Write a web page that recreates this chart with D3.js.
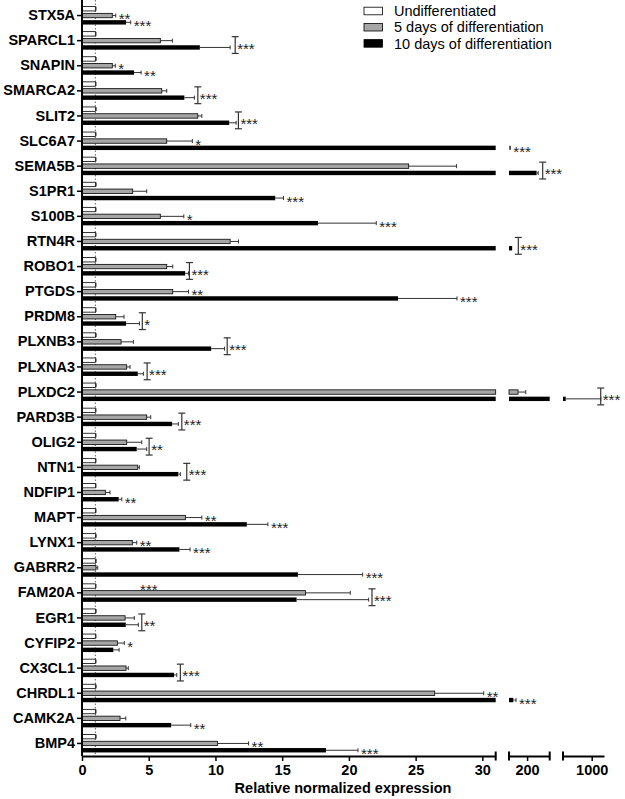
<!DOCTYPE html>
<html>
<head>
<meta charset="utf-8">
<script src="https://cdn.jsdelivr.net/npm/d3@7"></script>
<style>
  body { margin: 0; background: #fff; }
  text { font-family: Arial, "Liberation Sans", sans-serif; }
</style>
</head>
<body>
<div id="container"></div>
<script>
// DATA
const genes = ["STX5A","SPARCL1","SNAPIN","SMARCA2","SLIT2","SLC6A7","SEMA5B","S1PR1","S100B","RTN4R",
  "ROBO1","PTGDS","PRDM8","PLXNB3","PLXNA3","PLXDC2","PARD3B","OLIG2","NTN1","NDFIP1",
  "MAPT","LYNX1","GABRR2","FAM20A","EGR1","CYFIP2","CX3CL1","CHRDL1","CAMK2A","BMP4"];

const undiff   = [1,1,1,1,1,1,1,1,1,1, 1,1,1,1,1,1,1,1,1,1, 1,1,1,1,1,1,1,1,1,1];
const undiffSd = [0.05,0.05,0.06,0.05,0.06,0.05,0.05,0.06,0.05,0.05, 0.05,0.05,0.05,0.06,0.05,0.06,0.05,0.05,0.05,0.05,
  0.05,0.06,0.06,0.05,0.06,0.05,0.05,0.06,0.05,0.06];

const day5   = [2.27,5.87,2.27,5.98,8.68,6.35,24.48,3.8,5.87,11.1, 6.35,6.8,2.53,2.93,3.35,180,4.85,3.35,4.18,1.75,
  7.75,3.77,1.05,16.75,3.23,2.65,3.3,26.43,2.85,10.15];
const day5Sd = [0.26,0.9,0.23,0.37,0.3,1.92,3.58,1.05,1.76,0.63, 0.45,1.18,0.62,0.92,0.25,17,0.3,1.13,0.12,0.35,
  1.23,0.33,0.13,3.35,0.69,0.52,0.17,3.67,0.43,2.33];

const day10   = [3.3,8.83,3.9,7.67,11.03,161,221,14.48,17.68,167, 7.73,23.68,3.3,9.68,4.18,366,6.75,4.1,7.22,2.75,
  12.35,7.3,16.18,16.08,3.28,2.35,6.9,169.5,6.68,18.28];
const day10Sd = [0.35,2.27,0.53,0.75,0.52,2,3.6,0.62,4.37,0, 0.25,4.42,1.0,1.0,0.42,854,0.47,0.75,0.15,0.23,
  1.58,0.8,4.85,5.4,0.94,0.43,0.2,6,1.47,2.4];

// significance marks
const day5Stars  = ["**","","*","","","*","","","*","", "","**","","","","","","","","",
  "**","**","","","","*","","**","","**"];
const day10Stars = ["***","***","**","***","***","***","***","***","***","***", "***","***","*","***","***","***","***","**","***","**",
  "***","***","***","***","**","","***","***","**","***"];
const bracketAt  = [null,11.48,null,8.68,11.72,null,234.5,null,null,180.6, 8.05,null,4.52,10.88,4.88,1220,7.48,5.03,7.85,null,
  null,null,null,21.73,4.48,null,7.37,null,null,null];
const extraStars = [{gene: "FAM20A", at: 4.35, text: "***"}];

const seriesNames = ["Undifferentiated","5 days of differentiation","10 days of differentiation"];
const seriesFill  = ["#ffffff","#a6a6a6","#000000"];

// LAYOUT
const width = 625, height = 799;
const axisX = 82, axisY = 756;

const segments = [
  {domain: [0, 31],      range: [82, 495.7], ticks: [0,5,10,15,20,25,30]},
  {domain: [160, 250],   range: [509, 549.7], ticks: [200]},
  {domain: [300, 1300],  range: [563, 604],   ticks: [1000]}
];
segments.forEach(s => s.scale = d3.scaleLinear().domain(s.domain).range(s.range));

function xPos(v) {
  for (const s of segments) {
    if (v < s.domain[0]) return s.range[0];
    if (v <= s.domain[1]) return s.scale(v);
  }
  const last = segments[segments.length - 1];
  return last.scale(v);
}

function barPieces(v) {
  return segments.filter(s => v > s.domain[0])
    .map(s => [s.range[0], s.scale(Math.min(v, s.domain[1]))]);
}

const yScale = d3.scaleBand().domain(genes).range([3, axisY]);
const inner = d3.scaleBand().domain([0,1,2]).range([-10.2, 10.2]);
const barH = 4.4;
const rowY = (g, k) => yScale(g) + yScale.bandwidth() / 2 + inner(k) + inner.bandwidth() / 2;

const svg = d3.select("#container").append("svg")
  .attr("width", width).attr("height", height);

// dotted reference line at 1
svg.append("line")
  .attr("x1", xPos(1)).attr("x2", xPos(1))
  .attr("y1", 0).attr("y2", axisY)
  .attr("stroke", "#666").attr("stroke-width", 1)
  .attr("stroke-dasharray", "1.5,2");

// rows
const values = [undiff, day5, day10];
const sds = [undiffSd, day5Sd, day10Sd];
const rows = [];
genes.forEach((g, i) => {
  [0,1,2].forEach(k => rows.push({gene: g, k, value: values[k][i], sd: sds[k][i]}));
});

const barG = svg.append("g");
rows.forEach(d => {
  const y = rowY(d.gene, d.k);
  barPieces(d.value).forEach(p => {
    barG.append("rect")
      .attr("x", p[0]).attr("y", y - barH / 2)
      .attr("width", Math.max(0.5, p[1] - p[0])).attr("height", barH)
      .attr("fill", seriesFill[d.k])
      .attr("stroke", d.k === 2 ? "none" : "#000")
      .attr("stroke-width", 0.8);
  });
  if (d.sd > 0) {
    const x0 = xPos(d.value), x1 = xPos(d.value + d.sd);
    barG.append("line").attr("x1", x0).attr("x2", x1).attr("y1", y).attr("y2", y)
      .attr("stroke", "#333").attr("stroke-width", 1);
    barG.append("line").attr("x1", x1).attr("x2", x1).attr("y1", y - 2).attr("y2", y + 2)
      .attr("stroke", "#333").attr("stroke-width", 1);
  }
});

// stars and brackets
const starG = svg.append("g")
  .attr("font-size", 15).attr("fill", "#222");

function star(x, y, txt) {
  starG.append("text").attr("x", x).attr("y", y).attr("dy", "0.58em").text(txt);
}

genes.forEach((g, i) => {
  const y5 = rowY(g, 1), y10 = rowY(g, 2);
  if (day5Stars[i]) star(xPos(day5[i] + day5Sd[i]) + 3, y5, day5Stars[i]);
  if (bracketAt[i] !== null) {
    const bx = xPos(bracketAt[i]);
    const top = y5 - 4, bot = y10 + 6;
    const b = starG.append("g").attr("stroke", "#333").attr("stroke-width", 1.2);
    b.append("line").attr("x1", bx).attr("x2", bx).attr("y1", top).attr("y2", bot);
    b.append("line").attr("x1", bx - 3.5).attr("x2", bx + 3.5).attr("y1", top).attr("y2", top);
    b.append("line").attr("x1", bx - 3.5).attr("x2", bx + 3.5).attr("y1", bot).attr("y2", bot);
    if (day10Stars[i]) star(bx + 2, (top + bot) / 2, day10Stars[i]);
  } else if (day10Stars[i]) {
    star(xPos(day10[i] + day10Sd[i]) + 3, y10, day10Stars[i]);
  }
});
extraStars.forEach(e => star(xPos(e.at), rowY(e.gene, 0), e.text));

// y axis
const yAxis = svg.append("g")
  .attr("transform", `translate(${axisX},0)`)
  .call(d3.axisLeft(yScale).tickSize(5).tickPadding(2).tickSizeOuter(0));
yAxis.select(".domain").attr("d", `M0,0V${axisY}`).attr("stroke-width", 2);
yAxis.selectAll(".tick line").attr("stroke-width", 1.5);
yAxis.selectAll("text").attr("font-size", 14.5).attr("font-weight", "bold").attr("fill", "#000")
  .attr("font-family", "Arial, 'Liberation Sans', sans-serif");

// x axis segments
segments.forEach((s, i) => {
  const ax = svg.append("g")
    .attr("transform", `translate(0,${axisY})`)
    .call(d3.axisBottom(s.scale).tickValues(s.ticks).tickFormat(d3.format("d"))
      .tickSize(5).tickSizeOuter(0).tickPadding(4));
  ax.select(".domain").attr("stroke-width", 2);
  ax.selectAll(".tick line").attr("stroke-width", 1.5);
  ax.selectAll("text").attr("font-size", 14.5).attr("font-weight", "bold").attr("fill", "#000")
    .attr("font-family", "Arial, 'Liberation Sans', sans-serif");
  const caps = [];
  if (i > 0) caps.push(s.range[0]);
  if (i < segments.length - 1) caps.push(s.range[1]);
  caps.forEach(cx => {
    svg.append("line").attr("x1", cx).attr("x2", cx)
      .attr("y1", axisY - 4.5).attr("y2", axisY + 4.5)
      .attr("stroke", "#000").attr("stroke-width", 2);
  });
});

svg.append("text")
  .attr("x", 343).attr("y", 793)
  .attr("text-anchor", "middle")
  .attr("font-size", 14.5).attr("font-weight", "bold")
  .text("Relative normalized expression");

// legend
const legend = svg.append("g").attr("transform", "translate(364,11)");
seriesNames.forEach((name, k) => {
  const row = legend.append("g").attr("transform", `translate(0,${k * 16.2})`);
  row.append("rect").attr("x", 0).attr("y", -3.8).attr("width", 18.5).attr("height", 7.6)
    .attr("fill", seriesFill[k]).attr("stroke", "#000").attr("stroke-width", 0.8);
  row.append("text").attr("x", 30).attr("y", 5.2)
    .attr("font-size", 14.5).text(name);
});
</script>
</body>
</html>
